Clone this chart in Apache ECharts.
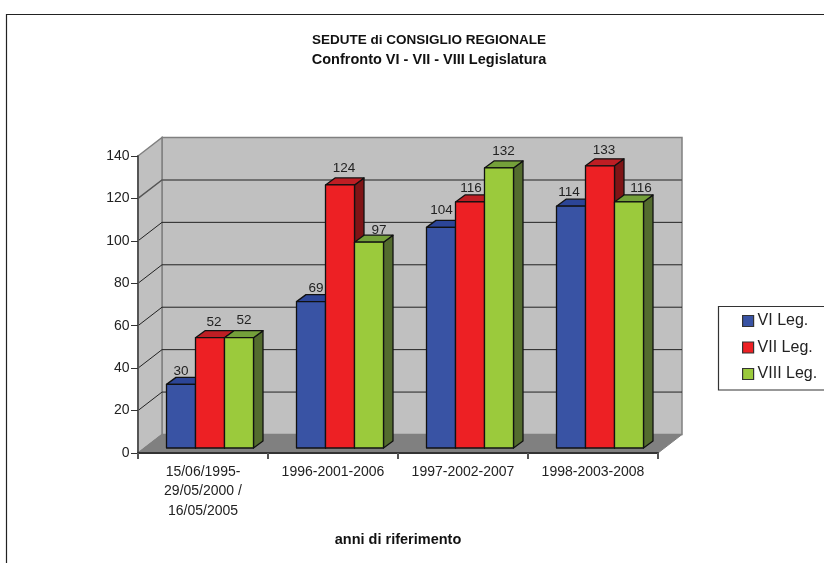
<!DOCTYPE html>
<html><head><meta charset="utf-8">
<style>html,body{margin:0;padding:0;background:#fff}#c{width:824px;height:563px}</style>
<script src="https://cdn.jsdelivr.net/npm/echarts@6/dist/echarts.min.js"></script>
</head><body><div id="c"></div>
<script>
const categories = ['15/06/1995-\n29/05/2000 /\n16/05/2005', '1996-2001-2006', '1997-2002-2007', '1998-2003-2008'];
const seriesNames = ['VI Leg.', 'VII Leg.', 'VIII Leg.'];
const viLeg = [30, 69, 104, 114];
const viiLeg = [52, 124, 116, 133];
const viiiLeg = [52, 97, 132, 116];
const valueTicks = [0, 20, 40, 60, 80, 100, 120, 140];
const titleLine1 = 'SEDUTE di CONSIGLIO REGIONALE';
const titleLine2 = 'Confronto VI - VII - VIII Legislatura';
const xAxisTitle = 'anni di riferimento';

// styling and 3D projection
const FONT = '"Liberation Sans", Arial, sans-serif';
const faces = [
  {front: '#3953a4', top: '#2c4597', side: '#1e2f66'},
  {front: '#ed2024', top: '#be1e24', side: '#7f1416'},
  {front: '#9bca3c', top: '#74a03a', side: '#536b2e'}
];
const WALL = {dx: 24, dy: -18.5};
const BAR = {w: 29, dx: 9.5, dy: -7, shiftX: 7, shiftY: -5};
// manual label shifts [x, y above back top edge], per series and category
const labelShift = [
  [[0, 6], [5, 6], [0.5, 10], [-2, 7]],
  [[4, 8], [4, 10], [1, 7], [4, 9]],
  [[5, 10], [10, 5], [4.5, 10], [12, 7]]
];

function walls(params, api) {
  const v = api.value(1);
  const s = params.coordSys;
  const y = api.coord([0, v])[1];
  const L = s.x, R = s.x + s.width, d = WALL;
  if (v === 0) {
    const yb = s.y + s.height, yt = s.y;
    const edge = {stroke: '#808080', lineWidth: 1.5};
    return {type: 'group', children: [
      {type: 'polygon', shape: {points: [[L + d.dx, yt + d.dy], [R + d.dx, yt + d.dy], [R + d.dx, yb + d.dy], [L + d.dx, yb + d.dy]]}, style: {fill: '#c0c0c0', ...edge}},
      {type: 'polygon', shape: {points: [[L, yt], [L + d.dx, yt + d.dy], [L + d.dx, yb + d.dy], [L, yb]]}, style: {fill: '#c0c0c0', ...edge}},
      {type: 'polygon', shape: {points: [[L, yb], [R, yb], [R + d.dx, yb + d.dy], [L + d.dx, yb + d.dy]]}, style: {fill: '#808080', stroke: '#808080', lineWidth: 1}}
    ]};
  }
  if (v >= 140) return {type: 'group', children: []};
  return {type: 'group', children: [
    {type: 'polyline', shape: {points: [[L, y], [L + d.dx, y + d.dy], [R + d.dx, y + d.dy]]},
     style: {fill: 'none', stroke: v === 120 ? '#555' : '#222', lineWidth: v === 120 ? 1.4 : 1}}
  ]};
}

function bar3d(idx) {
  return function (params, api) {
    const cat = api.value(0), val = api.value(1);
    const base = api.coord([cat, 0]), top = api.coord([cat, val]);
    const x0 = base[0] + BAR.shiftX + (idx - 1.5) * BAR.w, x1 = x0 + BAR.w;
    const yb = base[1] + BAR.shiftY, yt = top[1] + BAR.shiftY;
    const f = faces[idx], ln = {stroke: '#111', lineWidth: 1.3, lineJoin: 'round'};
    const sh = labelShift[idx][cat];
    return {type: 'group', children: [
      {type: 'polygon', shape: {points: [[x1, yb], [x1 + BAR.dx, yb + BAR.dy], [x1 + BAR.dx, yt + BAR.dy], [x1, yt]]}, style: {fill: f.side, ...ln}},
      {type: 'polygon', shape: {points: [[x0, yt], [x0 + BAR.dx, yt + BAR.dy], [x1 + BAR.dx, yt + BAR.dy], [x1, yt]]}, style: {fill: f.top, ...ln}},
      {type: 'rect', shape: {x: x0, y: yt, width: BAR.w, height: yb - yt}, style: {fill: f.front, ...ln}},
      {type: 'text', z2: 50, style: {text: String(val), x: (x0 + x1) / 2 + sh[0], y: yt + BAR.dy - sh[1], align: 'center', verticalAlign: 'middle', fill: '#222', font: '13.5px ' + FONT}}
    ]};
  };
}

const seriesValues = [viLeg, viiLeg, viiiLeg];
const chart = echarts.init(document.getElementById('c'), null, {renderer: 'canvas'});
chart.setOption({
  animation: false,
  backgroundColor: '#fff',
  title: {
    text: '{a|' + titleLine1 + '}\n{b|' + titleLine2 + '}', left: 424, top: 25, textAlign: 'center',
    textStyle: {
      rich: {
        a: {fontFamily: FONT, fontSize: 13.5, fontWeight: 'bold', color: '#111', lineHeight: 20},
        b: {fontFamily: FONT, fontSize: 14.5, fontWeight: 'bold', color: '#111', lineHeight: 20}
      }
    }
  },
  legend: {
    data: seriesNames.map((n, i) => ({name: n, icon: 'rect', itemStyle: {color: faces[i].front, borderColor: '#333', borderWidth: 1.2}})),
    orient: 'vertical', left: 737, top: 308, padding: 5,
    itemWidth: 11, itemHeight: 11, itemGap: 10.5, selectedMode: false,
    textStyle: {fontFamily: FONT, fontSize: 16, color: '#222', padding: [0, 0, 0, -1]}
  },
  grid: {left: 138, top: 156, width: 520, height: 297},
  xAxis: {
    type: 'category', data: categories, boundaryGap: true,
    axisLine: {show: true, lineStyle: {color: '#333', width: 2}},
    axisTick: {show: true, length: 6, alignWithLabel: false, lineStyle: {color: '#555', width: 2}},
    axisLabel: {fontFamily: FONT, fontSize: 14, color: '#222', lineHeight: 19.6, margin: 9, interval: 0},
    name: xAxisTitle, nameLocation: 'middle', nameGap: 79,
    nameTextStyle: {fontFamily: FONT, fontSize: 14.5, fontWeight: 'bold', color: '#111'},
    splitLine: {show: false}, z: 10
  },
  yAxis: {
    type: 'value', min: 0, max: 140, interval: 20,
    axisLine: {show: true, lineStyle: {color: '#555', width: 2}},
    axisTick: {show: true, length: 7, lineStyle: {color: '#333', width: 1}},
    axisLabel: {fontFamily: FONT, fontSize: 14, color: '#222', margin: 8.5},
    splitLine: {show: false}, z: 10
  },
  graphic: [
    {type: 'polyline', silent: true, shape: {points: [[6.5, 563], [6.5, 14.5], [824, 14.5]]}, style: {fill: 'none', stroke: '#222', lineWidth: 1.2}},
    {type: 'rect', silent: true, z: -1, shape: {x: 718.5, y: 306.5, width: 110, height: 83.5}, style: {fill: '#fff', stroke: '#333', lineWidth: 1.2}}
  ],
  series: [
    {type: 'custom', name: '__walls', silent: true, z: 1, renderItem: walls, data: valueTicks.map(v => [0, v])},
    ...seriesNames.map((n, i) => ({
      type: 'custom', name: n, silent: true, z: 2 + i,
      itemStyle: {color: faces[i].front},
      encode: {x: 0, y: 1},
      renderItem: bar3d(i),
      data: seriesValues[i].map((v, c) => [c, v])
    }))
  ]
});
</script></body></html>
